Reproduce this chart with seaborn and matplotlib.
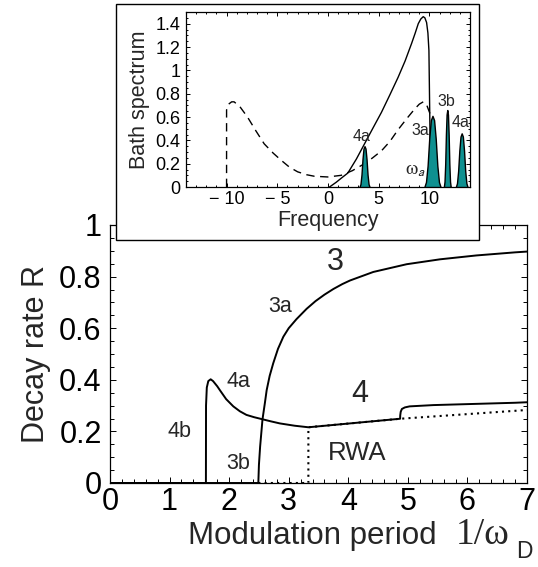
import matplotlib
matplotlib.use('Agg')
import matplotlib.pyplot as plt
from matplotlib.patches import Rectangle
from matplotlib.ticker import MultipleLocator, FuncFormatter
import seaborn as sns
import numpy as np
import pandas as pd

# main panel: decay rate vs modulation period
branch4_x = [0, 1.61, 1.612, 1.625, 1.65, 1.69, 1.73, 1.80, 1.85, 1.95, 2.07, 2.18, 2.29, 2.42, 2.56,
             2.70, 2.85, 3.10, 3.33,
             4.87, 4.872, 4.88, 4.90, 4.95, 5.03, 5.43, 6.80, 7.0]
branch4_y = [0, 0, 0.30, 0.37, 0.395, 0.402, 0.395, 0.375, 0.358, 0.325, 0.297, 0.278, 0.264, 0.255, 0.247,
             0.239, 0.231, 0.222, 0.216,
             0.249, 0.262, 0.276, 0.287, 0.293, 0.297, 0.302, 0.311, 0.313]
branch3_x = [0, 2.49, 2.50, 2.52, 2.56, 2.60, 2.63, 2.68, 2.74, 2.82, 2.91, 3.0, 3.13, 3.30, 3.45,
             3.60, 3.75, 3.90, 4.03, 4.42, 4.98, 5.54, 6.15, 6.80, 7.0]
branch3_y = [0, 0, 0.07, 0.141, 0.247, 0.31, 0.36, 0.415, 0.464, 0.52, 0.567, 0.60, 0.635, 0.675, 0.705,
             0.73, 0.752, 0.771, 0.785, 0.818, 0.848, 0.867, 0.882, 0.894, 0.897]
rwa_x = [2.49, 3.33, 3.33, 4.87, 7.0]
rwa_y = [0, 0, 0.216, 0.249, 0.283]

main_xticks = [0, 1, 2, 3, 4, 5, 6, 7]
main_yticks = [0, 0.2, 0.4, 0.6, 0.8, 1.0]

# inset: bath spectrum
solid_f = [0.15, 0.8, 1.3, 1.96, 2.8, 3.6, 4.4, 5.27, 6.1, 6.91, 7.6, 8.24, 8.6, 8.9, 9.15, 9.39,
           9.55, 9.72, 9.85, 9.95, 10.05, 10.1]
solid_s = [0, 0.04, 0.075, 0.12, 0.24, 0.37, 0.50, 0.64, 0.79, 0.94, 1.08, 1.23, 1.32, 1.40, 1.44, 1.46,
           1.45, 1.41, 1.32, 1.17, 0.5, 0]
dashed_f = [-10, -10, -9.8, -9.5, -9.26, -8.7, -7.94, -7.1, -6.29, -5.4, -4.63, -3.8, -2.99, -2.1,
            -1.34, -0.02, 1.3, 2.4, 3.6, 4.4, 5.27, 6.1, 6.9, 7.8, 8.56, 9.0, 9.39, 9.7, 10.05]
dashed_s = [0, 0.66, 0.71, 0.73, 0.73, 0.69, 0.60, 0.48, 0.37, 0.29, 0.23, 0.17, 0.13, 0.105,
            0.092, 0.086, 0.10, 0.14, 0.20, 0.25, 0.31, 0.39, 0.49, 0.59, 0.67, 0.71, 0.73, 0.71, 0.63]
peak_centers = [3.6, 10.3, 11.76, 13.18]
peak_heights = [0.35, 0.61, 0.66, 0.46]
peak_halfwidths = [0.5, 0.8, 0.34, 0.58]
# normalised peak profile (offset in half-widths, relative height)
profile_offset = [-1.0, -0.8, -0.6, -0.4, -0.2, 0.0, 0.2, 0.4, 0.6, 0.8, 1.0]
profile_level = [0.0, 0.07, 0.3, 0.68, 0.94, 1.0, 0.94, 0.68, 0.3, 0.07, 0.0]

inset_xticks = [-10, -5, 0, 5, 10]
inset_xtick_labels = ['\u2212 10', '\u2212 5', '0', '5', '10']
inset_yticks = [0, 0.2, 0.4, 0.6, 0.8, 1.0, 1.2, 1.4]

sns.set_theme(style='ticks')
plt.rcParams['font.family'] = ['Liberation Sans', 'DejaVu Sans']
plt.rcParams['mathtext.fontset'] = 'stix'

W, H = 538, 567
fig = plt.figure(figsize=(W / 100, H / 100), dpi=100)
fig.patch.set_facecolor('white')


def fx(px):
    return px / W


def fy(py):
    return 1 - py / H


def style_axes(ax, fs, major, minor_x, minor_y):
    ax.set_facecolor('white')
    for s in ax.spines.values():
        s.set_visible(True)
        s.set_color('black')
        s.set_linewidth(0.9)
    ax.xaxis.set_minor_locator(MultipleLocator(minor_x))
    ax.yaxis.set_minor_locator(MultipleLocator(minor_y))
    ax.tick_params(which='both', direction='in', top=True, right=True, colors='black', width=0.7)
    ax.tick_params(which='major', length=major, labelsize=fs)
    ax.tick_params(which='minor', length=major * 0.6)
    ax.grid(False)


# ---- main axes ----
ax = fig.add_axes([fx(110), fy(483), fx(527 - 110), (483 - 225) / H])
ax.set_zorder(0)
sns.lineplot(x=branch4_x, y=branch4_y, ax=ax, color='black', lw=1.4, sort=False, estimator=None)
sns.lineplot(x=branch3_x, y=branch3_y, ax=ax, color='black', lw=1.4, sort=False, estimator=None)
sns.lineplot(x=rwa_x, y=rwa_y, ax=ax, color='black', lw=1.5, linestyle=(0, (1, 2)), sort=False,
             estimator=None)
ax.set_xlim(0, 7)
ax.set_ylim(0, 1)
ax.set_xticks(main_xticks)
ax.set_yticks(main_yticks)
ax.yaxis.set_major_formatter(FuncFormatter(lambda v, p: f'{v:g}'))
style_axes(ax, 22, 4.5, 0.2, 0.05)
ax.tick_params(axis='y', pad=6)
ax.tick_params(axis='x', pad=3)
ax.set_ylabel('Decay rate R', fontsize=22, labelpad=6)
ax.set_xlabel('')
fig.text(fx(437), fy(536), 'Modulation period', fontsize=22.5, ha='right', va='center')
fig.text(fx(456), fy(535), '1/\u03c9', fontsize=27, family=['Liberation Serif', 'DejaVu Serif'],
         ha='left', va='center')
fig.text(fx(516), fy(551), 'D', fontsize=16.5, ha='left', va='center')

ax.text(3.78, 0.855, '3', fontsize=22, ha='center', va='center')
ax.text(4.19, 0.345, '4', fontsize=22, ha='center', va='center')
ax.text(4.14, 0.115, 'RWA', fontsize=18.5, ha='center', va='center')
for lab, px, py in [('3a', 2.85, 0.683), ('4a', 2.15, 0.393), ('4b', 1.17, 0.199), ('3b', 2.15, 0.076)]:
    ax.text(px, py, lab, fontsize=15.5, ha='center', va='center')

# ---- inset frame ----
fig.patches.append(Rectangle((fx(116), fy(240)), (479 - 116) / W, (240 - 4) / H,
                             transform=fig.transFigure, facecolor='white', edgecolor='black',
                             lw=1.0, zorder=1))

# ---- inset axes ----
ins = fig.add_axes([fx(186), fy(187), fx(470 - 186), (187 - 12) / H])
ins.set_zorder(2)
sns.lineplot(x=dashed_f, y=dashed_s, ax=ins, color='black', lw=1.0, linestyle=(0, (6, 4)),
             sort=False, estimator=None)
sns.lineplot(x=solid_f, y=solid_s, ax=ins, color='black', lw=1.0, sort=False, estimator=None)
for c, h, w in zip(peak_centers, peak_heights, peak_halfwidths):
    px = [c + o * w for o in profile_offset]
    py = [h * l for l in profile_level]
    ins.fill_between(px, py, 0, facecolor='#0e9090', edgecolor='black', lw=1.0, zorder=3)
ins.set_xlim(-14, 14)
ins.set_ylim(0, 1.5)
ins.set_xticks(inset_xticks)
ins.set_xticklabels(inset_xtick_labels)
ins.set_yticks(inset_yticks)
ins.yaxis.set_major_formatter(FuncFormatter(lambda v, p: f'{v:g}'))
style_axes(ins, 13, 3, 1, 0.05)
ins.tick_params(axis='y', pad=4)
ins.tick_params(axis='x', pad=3)
ins.set_xlabel('Frequency', fontsize=15.5, labelpad=1)
ins.set_ylabel('Bath spectrum', fontsize=15.5, labelpad=4)

for lab, px, py in [('4a', 3.33, 0.43), ('3a', 9.06, 0.486), ('3b', 11.7, 0.737), ('4a', 13.05, 0.557)]:
    ins.text(px, py, lab, fontsize=11.5, ha='center', va='center', zorder=4)
ins.text(8.6, 0.14, '$\\mathrm{\\omega}_{\\mathsf{a}}$', fontsize=14, ha='center', va='center', zorder=4)

fig.savefig('out.png', dpi=100, facecolor='white')
